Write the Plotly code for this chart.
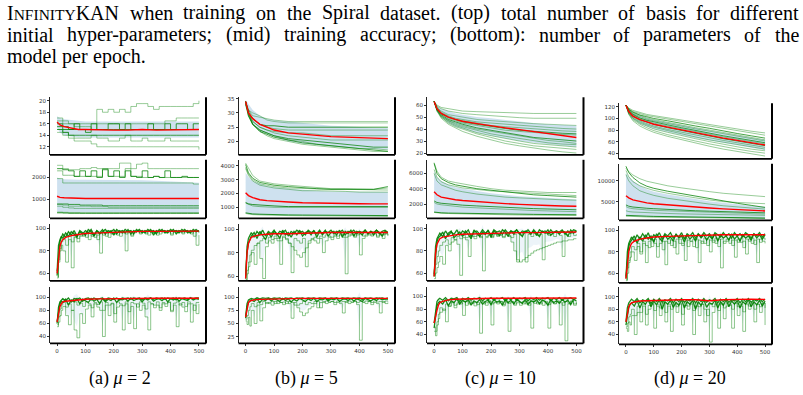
import numpy as np
import plotly.graph_objects as go

# ---------------- epoch grids ----------------
E_TOP = [0, 10, 25, 50, 75, 100, 150, 200, 250, 300, 350, 400, 450, 500]
E_STEP = list(range(0, 501, 20))
E_ACC = [0, 5, 10, 15] + list(range(20, 501, 10))
E_RED = [0, 5, 10, 15, 20, 30, 50, 75, 100, 150, 200, 250, 300, 350, 400, 450, 500]
X_TICKS = [0, 100, 200, 300, 400, 500]

# ---------------- (a) mu = 2 ----------------
BASIS_MU2_LINES = [
    [17, 16.5, 16, 15.5, 15.5, 15.5, 15, 18.5, 18, 18.5, 18, 18.5, 18, 19, 19.5, 19.5, 19, 18.5, 19, 19, 19, 19, 19, 19, 19.5, 20],
    [16.5, 16, 16, 16, 16, 16, 16, 16, 16, 16, 16, 16, 16, 16, 16, 16, 16, 16, 16, 16.5, 16.5, 17, 17, 17, 17, 17],
    [16, 15.5, 15, 16, 15, 15, 16, 15, 15, 16, 16, 15, 16, 15, 15, 15, 16, 15, 15, 16, 15, 16, 16, 15, 16, 16],
    [15.5, 15, 15, 15, 15, 14.5, 15, 15, 15, 15, 15, 15, 15, 15, 15, 15, 15, 15, 15, 15, 15, 15, 15, 15, 15, 15],
    [15, 14.5, 14, 14, 14, 14, 14, 14, 14, 14, 14, 14, 14, 14, 14, 14, 14, 14, 14, 14, 14, 14, 14, 14, 14, 14],
    [15, 14.5, 14, 13.5, 13.5, 13.5, 14, 13.5, 13.5, 13, 13, 13.5, 14, 13, 13, 13.5, 13, 13, 13, 13.5, 13, 13, 13, 13, 13, 13],
    [14.5, 14, 13.5, 13, 13, 13, 12.5, 12, 12, 12, 12, 12, 12, 12, 12, 12, 12, 12, 12, 12, 12, 12, 12, 12, 12, 11.5],
]
BASIS_MU2_MEAN = [16.3, 15.8, 15.5, 15.2, 15.0, 15.0, 14.9, 14.9, 14.9, 15.0, 14.9, 14.9, 15.0, 15.0]
BASIS_MU2_LO = [15.3, 14.5, 14.0, 13.8, 13.6, 13.5, 13.5, 13.5, 13.5, 13.5, 13.5, 13.5, 13.6, 13.6]
BASIS_MU2_HI = [17.3, 17.0, 16.8, 16.6, 16.5, 16.4, 16.4, 16.3, 16.3, 16.4, 16.3, 16.3, 16.4, 16.4]

PARAMS_MU2_LINES = [
    [2400, 2350, 2300, 2050, 2300, 2050, 2300, 2000, 2350, 2050, 2300, 2000, 2300, 2050, 2000, 2300, 2000, 2050, 2000, 2300, 2000, 2000, 2050, 2000, 2000, 2000],
    [2550, 2400, 2350, 2350, 2400, 2400, 2450, 2400, 2400, 2400, 2400, 2650, 2650, 2400, 2600, 2650, 2400, 2400, 2400, 2400, 2400, 2400, 2400, 2400, 2400, 2400],
    [2300, 2100, 2100, 2050, 2050, 2050, 2050, 2050, 2400, 2050, 2050, 2050, 2400, 2050, 2050, 2000, 2000, 2050, 2000, 2000, 2000, 2000, 2000, 2000, 2000, 2000],
    [1950, 1750, 1750, 1750, 1750, 1750, 1750, 1750, 1750, 1750, 1750, 1750, 1750, 1750, 1750, 1750, 1750, 1750, 1750, 1750, 1750, 1750, 1750, 1750, 1700, 1700],
    [800, 800, 780, 780, 750, 750, 750, 750, 720, 720, 720, 720, 720, 720, 720, 720, 720, 720, 720, 720, 720, 720, 720, 720, 720, 720],
    [780, 750, 700, 700, 700, 700, 680, 680, 680, 650, 650, 650, 650, 650, 650, 650, 650, 650, 650, 650, 650, 650, 650, 650, 650, 650],
    [700, 650, 620, 600, 600, 600, 600, 600, 600, 600, 600, 600, 600, 600, 600, 600, 600, 600, 600, 600, 600, 600, 600, 600, 600, 600],
    [400, 390, 380, 380, 380, 380, 380, 380, 380, 380, 380, 380, 380, 380, 380, 380, 380, 380, 380, 380, 380, 380, 380, 380, 380, 380],
    [430, 420, 410, 410, 400, 400, 400, 400, 400, 400, 400, 400, 400, 400, 400, 400, 400, 400, 400, 400, 400, 400, 400, 400, 400, 400],
]
PARAMS_MU2_MEAN = [1150, 1100, 1080, 1060, 1060, 1050, 1050, 1050, 1050, 1060, 1050, 1050, 1050, 1050]
PARAMS_MU2_LO = [450, 430, 420, 410, 400, 400, 400, 400, 400, 400, 400, 400, 400, 400]
PARAMS_MU2_HI = [2000, 1950, 1920, 1900, 1900, 1900, 1900, 1900, 1880, 1870, 1850, 1830, 1800, 1760]

TRAIN_MU2_LINES = [
    [58, 78, 88, 92,
     95, 92, 97, 94, 98, 93, 97, 95, 98, 96, 99, 94, 98, 96, 99, 95, 98, 97, 99, 95, 98,
     96, 99, 97, 98, 95, 99, 97, 98, 96, 99, 97, 98, 95, 99, 97, 98, 96, 99, 97, 98, 96,
     99, 97, 98, 96, 99, 97, 98],
    [62, 85, 90, 93,
     91, 96, 93, 97, 95, 92, 98, 96, 94, 99, 97, 93, 98, 95, 97, 99, 96, 98, 94, 99, 97,
     98, 96, 99, 95, 98, 97, 99, 96, 98, 97, 99, 94, 98, 97, 99, 96, 98, 97, 99, 95, 98,
     97, 99, 96, 98, 97, 99, 97],
    [56, 70, 80, 85,
     80, 70, 90, 65, 92, 88, 94, 93, 96, 90, 95, 92, 94, 78, 96, 93, 97, 95, 98, 94, 96,
     97, 80, 98, 93, 97, 98, 96, 97, 95, 98, 96, 97, 94, 98, 97, 96, 98, 95, 97, 98, 97,
     96, 98, 97, 95, 98, 85, 94],
    [57, 72, 82, 88,
     90, 85, 93, 88, 95, 91, 93, 94, 92, 96, 93, 95, 90, 96, 94, 97, 92, 96, 95, 97, 93,
     96, 95, 97, 94, 96, 98, 95, 97, 96, 94, 98, 96, 97, 95, 98, 96, 97, 94, 98, 96, 97,
     95, 98, 96, 97, 93, 98, 96],
]
TRAIN_MU2_MEAN = [60, 75, 84, 88, 90, 92, 93.5, 94.5, 95.5, 96, 96.5, 97, 97.3, 97.3, 97.5, 97.5, 97.5]

TEST_MU2_LINES = [
    [60, 85, 93, 96,
     98, 95, 99, 93, 98, 97, 99, 94, 98, 99, 96, 99, 97, 98, 99, 95, 99, 98, 97, 99, 96,
     99, 98, 99, 97, 99, 98, 99, 96, 99, 98, 99, 97, 99, 98, 99, 97, 99, 98, 99, 96, 99,
     98, 99, 97, 99, 98, 99, 99],
    [63, 80, 90, 94,
     92, 97, 88, 96, 93, 98, 90, 97, 95, 92, 98, 94, 97, 90, 98, 93, 97, 95, 99, 92, 97,
     96, 98, 94, 99, 95, 97, 98, 93, 98, 96, 99, 94, 97, 98, 95, 99, 93, 98, 96, 99, 94,
     98, 97, 95, 99, 96, 98, 97],
    [55, 62, 72, 80,
     86, 72, 58, 80, 50, 38, 75, 60, 82, 88, 70, 90, 85, 80, 40, 88, 72, 90, 62, 85, 88,
     50, 90, 60, 86, 52, 90, 80, 88, 70, 50, 90, 84, 88, 80, 90, 86, 92, 80, 88, 55, 90,
     85, 78, 90, 62, 88, 75, 90],
    [58, 70, 82, 88,
     92, 85, 90, 80, 93, 88, 91, 86, 93, 90, 84, 92, 89, 93, 80, 92, 88, 91, 75, 93, 90,
     87, 93, 78, 92, 90, 85, 93, 91, 82, 93, 90, 88, 93, 84, 92, 90, 93, 78, 91, 93, 88,
     92, 86, 93, 90, 80, 92, 93],
]
TEST_MU2_MEAN = [62, 78, 86, 90, 93, 94, 95, 96, 97, 97.5, 98, 98, 98.5, 98.5, 98.5, 98.5, 98.5]

# ---------------- (b) mu = 5 ----------------
BASIS_MU5_LINES = [
    [34, 31, 29, 28.5, 28, 27.5, 27, 27, 27, 27, 27, 27, 27, 27],
    [33, 31, 30, 29, 27.5, 27, 26.5, 26.5, 26.5, 26.5, 26.5, 26.5, 26.5, 26.5],
    [34, 30, 28, 26, 25.5, 25.5, 25, 25, 25, 25, 25, 25, 25, 25],
    [34, 31, 28, 26, 25, 24.5, 24, 24, 24, 24, 24, 24, 24, 24],
    [33, 30, 27, 25, 24, 23.5, 23, 23, 22.5, 22, 22, 22, 22, 22],
    [34, 30, 27, 25, 24, 23, 22, 21.5, 21, 20.5, 20.5, 20.5, 20.5, 20.5],
    [34, 29, 26, 24, 23, 22, 21, 20.5, 20, 19.5, 19, 18.5, 18, 18],
    [33, 29, 26, 24, 23, 22, 20.5, 20, 19, 18.5, 18, 17.5, 17.5, 17],
    [34, 30, 26, 23.5, 22.5, 21.5, 20.5, 19.5, 19, 18.5, 18, 17.5, 17, 16.5],
    [33, 29, 26, 23.5, 22, 21, 20, 19, 18.5, 18, 17.5, 17, 16.5, 16.5],
]
BASIS_MU5_MEAN = [34, 30, 28, 26, 25, 24, 23, 22.5, 22, 21.7, 21.5, 21.3, 21.1, 21]
BASIS_MU5_LO = [33, 29, 26, 23.5, 22.5, 21.5, 20, 19.3, 18.7, 18.2, 17.8, 17.5, 17.3, 17.1]
BASIS_MU5_HI = [34.5, 33, 31, 29, 28, 27.5, 27, 26.5, 26, 25.5, 25.3, 25, 24.8, 24.7]

PARAMS_MU5_LINES = [
    [4200, 3800, 3300, 2900, 2800, 2700, 2600, 2500, 2400, 2350, 2350, 2350, 2300, 2400],
    [4100, 3500, 3100, 2800, 2700, 2600, 2500, 2400, 2350, 2300, 2300, 2300, 2300, 2500],
    [3900, 3400, 3000, 2700, 2600, 2500, 2400, 2350, 2300, 2300, 2300, 2300, 2250, 2250],
    [3800, 3300, 2900, 2600, 2500, 2400, 2300, 2200, 2200, 2200, 2150, 2100, 2100, 2100],
    [1350, 1250, 1200, 1150, 1100, 1100, 1050, 1050, 1050, 1050, 1050, 1050, 1050, 1050],
    [1300, 1200, 1100, 1050, 1000, 1000, 1000, 1000, 1000, 1000, 1000, 1000, 1000, 1000],
    [600, 550, 520, 500, 480, 470, 450, 440, 430, 420, 420, 410, 410, 400],
    [550, 500, 470, 450, 430, 420, 400, 390, 380, 370, 360, 360, 350, 350],
]
PARAMS_MU5_MEAN = [2050, 1850, 1700, 1550, 1480, 1430, 1380, 1330, 1300, 1280, 1270, 1260, 1250, 1250]
PARAMS_MU5_LO = [600, 500, 480, 450, 420, 400, 380, 370, 360, 350, 350, 340, 340, 330]
PARAMS_MU5_HI = [3500, 3200, 2900, 2700, 2550, 2450, 2350, 2250, 2200, 2150, 2150, 2100, 2100, 2100]

TRAIN_MU5_LINES = [
    [58, 85, 92, 95,
     97, 93, 98, 95, 99, 94, 98, 96, 99, 95, 98, 97, 99, 94, 98, 96, 99, 97, 98, 95, 99,
     97, 98, 96, 99, 95, 98, 97, 99, 96, 98, 97, 99, 95, 98, 97, 99, 96, 98, 97, 99, 96,
     98, 97, 99, 96, 98, 99, 97],
    [60, 80, 88, 92,
     94, 97, 92, 98, 95, 91, 97, 93, 98, 96, 92, 99, 95, 97, 93, 98, 95, 99, 94, 97, 98,
     95, 99, 93, 98, 96, 99, 94, 97, 98, 95, 99, 93, 98, 96, 99, 94, 98, 97, 95, 99, 96,
     98, 95, 99, 97, 94, 98, 97],
    [56, 62, 68, 72,
     80, 70, 88, 75, 58, 85, 90, 88, 92, 90, 70, 93, 91, 88, 63, 92, 90, 88, 92, 68, 90,
     92, 90, 88, 92, 80, 90, 93, 91, 94, 92, 95, 93, 62, 94, 95, 93, 96, 78, 92, 94, 95,
     94, 96, 93, 95, 92, 96, 94],
    [57, 65, 72, 78,
     82, 86, 88, 90, 92, 88, 93, 91, 94, 92, 90, 94, 92, 88, 85, 82, 78, 76, 80, 84, 88,
     91, 93, 92, 94, 93, 95, 94, 93, 95, 94, 96, 95, 93, 95, 96, 94, 95, 96, 94, 95, 96,
     95, 96, 94, 96, 95, 96, 95],
]
TRAIN_MU5_MEAN = [58, 80, 88, 91, 93, 94, 95, 95.5, 96, 96, 96.5, 96.5, 97, 97, 97, 97, 97]

TEST_MU5_LINES = [
    [62, 88, 95, 97,
     98, 96, 99, 97, 99, 98, 99, 97, 99, 98, 99, 96, 99, 98, 99, 97, 99, 98, 99, 97, 99,
     98, 99, 97, 99, 98, 99, 96, 99, 98, 99, 97, 99, 98, 99, 97, 99, 98, 99, 96, 99, 98,
     99, 97, 99, 98, 99, 97, 99],
    [60, 82, 90, 93,
     95, 92, 97, 90, 96, 94, 98, 93, 97, 95, 92, 98, 94, 97, 91, 96, 93, 98, 95, 92, 97,
     94, 98, 92, 96, 95, 98, 93, 97, 95, 98, 92, 96, 97, 94, 98, 93, 97, 95, 92, 98, 96,
     93, 97, 94, 98, 95, 97, 96],
    [55, 48, 62, 45,
     75, 50, 85, 55, 80, 90, 88, 85, 92, 88, 90, 86, 92, 88, 60, 90, 85, 88, 92, 86, 90,
     88, 92, 80, 90, 92, 88, 90, 92, 86, 90, 88, 70, 92, 88, 90, 92, 86, 18, 90, 88, 92,
     86, 90, 88, 70, 92, 88, 90],
    [58, 65, 75, 82,
     88, 82, 90, 86, 92, 88, 90, 92, 88, 93, 90, 91, 88, 92, 90, 85, 80, 72, 65, 70, 78,
     82, 88, 92, 80, 90, 93, 91, 92, 90, 93, 91, 92, 90, 93, 91, 93, 90, 92, 91, 93, 92,
     90, 93, 91, 92, 90, 93, 92],
]
TEST_MU5_MEAN = [62, 80, 90, 93, 94, 95, 96, 96.5, 97, 97.5, 98, 98, 98, 98, 97.5, 98, 98]

# ---------------- (c) mu = 10 ----------------
BASIS_MU10_LINES = [
    [63, 60, 58, 57, 56, 55, 54.5, 54, 53.5, 53, 53, 53, 53, 53],
    [63, 59, 57, 55, 54, 53, 52, 51, 50, 49.5, 49, 49, 49, 49],
    [63, 58, 55, 52, 51, 50, 48, 47, 46, 45, 44.5, 44, 43.5, 43],
    [63, 58, 54, 51, 49, 48, 46, 45, 44, 43, 42, 41, 40.5, 40],
    [63, 57, 53, 50, 48, 47, 45, 43, 42, 41, 40, 39, 38.5, 38],
    [63, 57, 53, 50, 48, 46, 44, 42, 40.5, 39, 38, 37, 36.5, 36],
    [63, 57, 53, 49, 47, 45, 43, 41, 39, 38, 37, 36, 35.5, 35],
    [63, 56, 52, 48, 46, 44, 41, 39, 37, 35, 33, 32, 31, 30],
    [63, 56, 51, 47, 45, 43, 40, 38, 36, 34, 32, 30.5, 29.5, 28],
    [63, 56, 51, 47, 44, 42, 39, 36, 34, 32, 30, 28.5, 27.5, 27],
    [63, 56, 50, 46, 43, 41, 37, 34.5, 32, 30, 28, 27, 26, 25],
    [63, 55, 50, 45, 42, 40, 36, 33, 30, 28, 26, 25, 24, 23],
    [63, 55, 49, 44, 41, 38, 34, 31, 28, 26, 24, 22.5, 21, 20],
]
BASIS_MU10_MEAN = [63, 57, 53, 50, 48, 46.5, 44.5, 42.5, 41, 39.5, 38, 36.5, 35, 33]
BASIS_MU10_LO = [63, 55, 50, 45, 42, 40, 37, 34.5, 32, 30, 28.5, 27, 26, 25]
BASIS_MU10_HI = [63, 59, 57, 55, 53, 52, 50, 49, 47.5, 46, 45, 44, 43.5, 43]

PARAMS_MU10_LINES = [
    [7400, 6300, 5500, 5000, 4800, 4600, 4300, 4000, 3800, 3700, 3600, 3500, 3500, 3500],
    [7300, 6000, 5300, 4800, 4500, 4300, 4000, 3800, 3600, 3400, 3200, 3100, 3000, 2900],
    [6500, 5500, 4900, 4500, 4300, 4100, 3900, 3700, 3600, 3500, 3400, 3300, 3200, 3100],
    [6000, 5000, 4500, 4100, 3800, 3600, 3300, 3100, 2900, 2800, 2700, 2600, 2550, 2500],
    [2400, 2200, 2100, 2000, 1900, 1850, 1750, 1650, 1550, 1450, 1400, 1350, 1300, 1250],
    [2200, 2000, 1900, 1800, 1700, 1600, 1500, 1400, 1300, 1200, 1150, 1100, 1050, 1000],
    [950, 900, 850, 820, 800, 780, 750, 720, 700, 680, 650, 630, 620, 600],
    [900, 850, 800, 760, 730, 700, 660, 630, 600, 570, 550, 530, 510, 500],
]
PARAMS_MU10_MEAN = [3600, 3200, 2900, 2700, 2550, 2450, 2300, 2150, 2050, 1950, 1850, 1800, 1750, 1700]
PARAMS_MU10_LO = [950, 900, 850, 820, 800, 780, 750, 720, 700, 680, 650, 630, 620, 600]
PARAMS_MU10_HI = [6300, 5500, 5000, 4500, 4200, 4000, 3700, 3400, 3200, 3000, 2900, 2800, 2700, 2600]

TRAIN_MU10_LINES = [
    [57, 84, 91, 94,
     96, 93, 98, 94, 97, 95, 99, 94, 98, 96, 99, 93, 97, 98, 95, 99, 96, 98, 94, 99, 97,
     98, 95, 99, 96, 98, 97, 99, 95, 98, 97, 99, 96, 98, 94, 99, 97, 98, 95, 99, 96, 98,
     97, 99, 95, 98, 96, 99, 98],
    [59, 78, 88, 92,
     93, 97, 91, 96, 98, 92, 95, 97, 93, 98, 95, 91, 99, 96, 93, 97, 95, 99, 92, 98, 96,
     94, 99, 97, 93, 98, 95, 99, 96, 93, 98, 97, 95, 99, 96, 93, 98, 96, 99, 94, 97, 98,
     95, 98, 97, 93, 99, 96, 98],
    [55, 60, 65, 70,
     75, 68, 85, 80, 88, 90, 86, 58, 92, 90, 75, 93, 91, 95, 93, 62, 92, 95, 93, 96, 94,
     95, 93, 96, 94, 92, 95, 70, 94, 96, 70, 95, 93, 96, 94, 95, 72, 96, 94, 95, 93, 96,
     94, 75, 95, 93, 96, 94, 95],
    [58, 68, 75, 80,
     85, 88, 90, 86, 92, 90, 93, 91, 94, 92, 93, 95, 93, 94, 92, 95, 93, 94, 92, 95, 93,
     94, 92, 95, 93, 88, 80, 72, 70, 72, 74, 76, 78, 80, 81, 82, 83, 84, 85, 86, 87, 88,
     88, 89, 89, 90, 90, 91, 91],
]
TRAIN_MU10_MEAN = [57, 78, 86, 89, 91, 92.5, 93.5, 94.5, 95, 95.5, 96, 96, 96.5, 96.5, 96.5, 97, 97]

TEST_MU10_LINES = [
    [58, 80, 92, 95,
     97, 94, 98, 93, 97, 96, 98, 92, 97, 95, 98, 94, 97, 96, 98, 93, 97, 95, 98, 94, 97,
     96, 98, 93, 97, 95, 98, 94, 97, 96, 98, 93, 97, 95, 98, 94, 97, 96, 98, 93, 97, 95,
     98, 94, 97, 96, 98, 95, 97],
    [50, 70, 85, 90,
     92, 88, 95, 85, 93, 90, 96, 88, 94, 91, 95, 86, 93, 90, 95, 88, 92, 94, 87, 95, 91,
     93, 86, 95, 90, 94, 88, 95, 92, 89, 95, 87, 93, 91, 95, 88, 94, 92, 86, 95, 90, 93,
     89, 95, 91, 94, 87, 95, 93],
    [45, 38, 55, 65,
     75, 80, 60, 85, 90, 82, 88, 90, 70, 92, 88, 91, 85, 90, 42, 88, 90, 92, 55, 90, 88,
     92, 85, 90, 45, 92, 88, 90, 86, 92, 88, 90, 50, 92, 88, 90, 86, 92, 50, 90, 88, 92,
     55, 90, 30, 88, 92, 86, 90],
    [52, 45, 60, 72,
     82, 78, 88, 84, 91, 86, 90, 88, 92, 86, 93, 89, 91, 87, 90, 92, 86, 93, 88, 91, 90,
     92, 87, 93, 89, 91, 86, 93, 90, 88, 92, 86, 93, 89, 91, 88, 93, 90, 87, 92, 89, 93,
     90, 86, 92, 89, 93, 88, 92],
]
TEST_MU10_MEAN = [58, 70, 78, 86, 90, 92, 94.5, 95.5, 96, 96.5, 97, 97, 97, 97, 97, 97, 97.5]

# ---------------- (d) mu = 20 ----------------
BASIS_MU20_LINES = [
    [123, 118, 114, 110, 107, 105, 101, 97, 93, 89, 85, 82, 78, 75],
    [123, 117, 112, 108, 105, 103, 99, 95, 91, 87, 83, 79, 75, 71],
    [123, 116, 111, 106, 103, 100, 96, 91, 87, 83, 78, 74, 70, 66],
    [123, 115, 110, 105, 101, 98, 93, 89, 84, 80, 76, 72, 68, 63],
    [123, 114, 108, 103, 99, 96, 91, 87, 82, 78, 74, 70, 65, 61],
    [123, 114, 107, 101, 97, 94, 89, 84, 79, 75, 70, 66, 62, 58],
    [123, 113, 106, 100, 96, 92, 87, 82, 77, 72, 68, 64, 60, 56],
    [123, 112, 104, 98, 94, 90, 84, 79, 74, 70, 65, 61, 57, 53],
    [123, 111, 103, 96, 91, 87, 81, 76, 71, 66, 62, 58, 54, 50],
    [123, 110, 101, 94, 89, 85, 79, 73, 68, 63, 59, 55, 51, 47],
    [123, 109, 100, 92, 87, 82, 76, 70, 65, 60, 55, 51, 47, 44],
    [123, 108, 98, 90, 84, 79, 72, 66, 61, 56, 51, 47, 43, 40],
    [123, 107, 96, 87, 81, 76, 69, 63, 57, 52, 47, 43, 39, 35],
]
BASIS_MU20_MEAN = [123, 112, 104, 98, 94, 90, 85, 80, 75, 71, 66, 62, 58, 54]
BASIS_MU20_LO = [123, 108, 99, 91, 86, 82, 76, 71, 66, 62, 57, 53, 49, 45]
BASIS_MU20_HI = [123, 116, 110, 105, 101, 98, 93, 88, 84, 79, 75, 71, 67, 63]

PARAMS_MU20_LINES = [
    [13000, 12200, 11400, 10500, 9900, 9500, 8800, 8300, 7800, 7400, 7000, 6700, 6400, 6200],
    [13500, 12000, 10800, 9500, 8700, 8200, 7500, 6900, 6300, 5700, 5100, 4600, 4100, 3600],
    [12500, 11000, 9800, 8800, 8200, 7700, 7000, 6400, 5900, 5400, 5000, 4800, 4600, 4500],
    [11500, 10000, 8800, 7600, 7000, 6500, 5800, 5300, 4800, 4400, 4000, 3700, 3400, 3200],
    [4200, 3900, 3700, 3500, 3400, 3300, 3100, 2900, 2800, 2700, 2600, 2500, 2400, 2300],
    [3800, 3500, 3300, 3100, 3000, 2900, 2800, 2650, 2500, 2400, 2300, 2200, 2100, 2000],
    [2800, 2600, 2500, 2400, 2300, 2250, 2150, 2050, 2000, 1900, 1850, 1800, 1750, 1700],
    [1700, 1650, 1600, 1550, 1500, 1450, 1400, 1350, 1300, 1250, 1200, 1150, 1100, 1050],
    [1500, 1450, 1400, 1350, 1300, 1250, 1200, 1150, 1100, 1050, 1000, 1000, 950, 950],
]
PARAMS_MU20_MEAN = [6400, 5900, 5400, 5000, 4700, 4500, 4200, 3900, 3700, 3450, 3250, 3050, 2900, 2750]
PARAMS_MU20_LO = [1500, 1450, 1400, 1350, 1300, 1250, 1200, 1150, 1100, 1050, 1000, 1000, 950, 950]
PARAMS_MU20_HI = [12000, 11000, 10000, 8800, 8000, 7400, 6700, 6100, 5600, 5100, 4700, 4300, 4000, 3800]

TRAIN_MU20_LINES = [
    [55, 80, 88, 92,
     94, 90, 96, 92, 97, 93, 98, 91, 96, 94, 98, 92, 97, 95, 98, 93, 96, 94, 98, 92, 97,
     95, 98, 93, 97, 94, 98, 95, 97, 93, 98, 96, 94, 98, 95, 97, 93, 98, 95, 97, 94, 98,
     96, 93, 97, 95, 98, 94, 97],
    [57, 75, 85, 89,
     91, 95, 88, 94, 90, 96, 92, 95, 89, 97, 93, 90, 96, 92, 94, 90, 97, 93, 95, 89, 96,
     92, 95, 90, 97, 93, 96, 91, 95, 92, 97, 90, 96, 93, 95, 91, 97, 92, 95, 90, 96, 93,
     95, 91, 97, 93, 96, 92, 96],
    [53, 60, 70, 75,
     80, 72, 85, 78, 88, 70, 90, 85, 92, 75, 88, 90, 68, 92, 86, 90, 78, 92, 88, 72, 91,
     90, 85, 92, 70, 90, 88, 92, 80, 91, 88, 92, 65, 90, 92, 88, 91, 75, 92, 89, 90, 78,
     92, 88, 91, 70, 92, 90, 88],
    [54, 65, 72, 80,
     85, 82, 88, 80, 90, 86, 84, 91, 88, 85, 92, 82, 90, 88, 91, 84, 92, 88, 86, 93, 85,
     90, 92, 84, 91, 88, 93, 86, 91, 89, 93, 85, 92, 88, 90, 93, 86, 91, 89, 93, 84, 92,
     90, 93, 87, 92, 89, 93, 91],
]
TRAIN_MU20_MEAN = [55, 72, 80, 85, 88, 90, 92, 93, 94, 94.5, 95, 95.5, 95.5, 96, 96, 96, 96]

TEST_MU20_LINES = [
    [60, 82, 90, 94,
     96, 92, 97, 90, 95, 93, 97, 89, 96, 92, 97, 91, 95, 93, 97, 90, 96, 92, 97, 91, 95,
     93, 97, 90, 96, 92, 97, 91, 95, 93, 97, 90, 96, 92, 97, 91, 95, 93, 97, 90, 96, 92,
     97, 91, 95, 93, 97, 92, 96],
    [55, 70, 82, 88,
     90, 85, 94, 82, 92, 88, 95, 84, 93, 87, 95, 80, 92, 88, 94, 83, 91, 86, 95, 82, 92,
     88, 94, 80, 92, 86, 95, 83, 90, 88, 94, 82, 92, 86, 95, 84, 93, 88, 94, 82, 92, 88,
     95, 84, 92, 87, 94, 85, 93],
    [50, 45, 60, 55,
     70, 40, 75, 60, 85, 55, 80, 88, 50, 85, 70, 90, 60, 85, 45, 88, 75, 90, 55, 86, 80,
     90, 40, 85, 70, 88, 60, 80, 28, 75, 88, 50, 90, 65, 85, 88, 50, 90, 70, 85, 45, 88,
     80, 90, 60, 88, 75, 90, 55],
    [52, 58, 68, 72,
     80, 70, 85, 75, 88, 72, 86, 90, 78, 88, 82, 90, 75, 88, 80, 90, 84, 88, 72, 90, 85,
     88, 78, 90, 84, 88, 80, 70, 88, 84, 90, 78, 88, 82, 90, 86, 80, 90, 84, 88, 76, 90,
     85, 90, 80, 88, 84, 90, 82],
]
TEST_MU20_MEAN = [60, 75, 84, 88, 90, 91.5, 93, 93.5, 94, 94.5, 95, 95, 93.5, 95, 96, 96, 95.5]

# ---------------- text ----------------
CAPTION_LINES = [
    "InfinityKAN when training on the Spiral dataset. (top) total number of basis for different",
    "initial hyper-parameters; (mid) training accuracy; (bottom): number of parameters of the",
    "model per epoch.",
]
SUB_CAPTIONS = ["(a) <i>μ</i> = 2", "(b) <i>μ</i> = 5", "(c) <i>μ</i> = 10", "(d) <i>μ</i> = 20"]

# ---------------- panel table (row, col) ----------------
PANELS = [
    [dict(x=E_STEP, lines=BASIS_MU2_LINES, mx=E_TOP, mean=BASIS_MU2_MEAN, lo=BASIS_MU2_LO, hi=BASIS_MU2_HI),
     dict(x=E_TOP, lines=BASIS_MU5_LINES, mx=E_TOP, mean=BASIS_MU5_MEAN, lo=BASIS_MU5_LO, hi=BASIS_MU5_HI),
     dict(x=E_TOP, lines=BASIS_MU10_LINES, mx=E_TOP, mean=BASIS_MU10_MEAN, lo=BASIS_MU10_LO, hi=BASIS_MU10_HI),
     dict(x=E_TOP, lines=BASIS_MU20_LINES, mx=E_TOP, mean=BASIS_MU20_MEAN, lo=BASIS_MU20_LO, hi=BASIS_MU20_HI)],
    [dict(x=E_STEP, lines=PARAMS_MU2_LINES, mx=E_TOP, mean=PARAMS_MU2_MEAN, lo=PARAMS_MU2_LO, hi=PARAMS_MU2_HI),
     dict(x=E_TOP, lines=PARAMS_MU5_LINES, mx=E_TOP, mean=PARAMS_MU5_MEAN, lo=PARAMS_MU5_LO, hi=PARAMS_MU5_HI),
     dict(x=E_TOP, lines=PARAMS_MU10_LINES, mx=E_TOP, mean=PARAMS_MU10_MEAN, lo=PARAMS_MU10_LO, hi=PARAMS_MU10_HI),
     dict(x=E_TOP, lines=PARAMS_MU20_LINES, mx=E_TOP, mean=PARAMS_MU20_MEAN, lo=PARAMS_MU20_LO, hi=PARAMS_MU20_HI)],
    [dict(x=E_ACC, lines=TRAIN_MU2_LINES, mx=E_RED, mean=TRAIN_MU2_MEAN),
     dict(x=E_ACC, lines=TRAIN_MU5_LINES, mx=E_RED, mean=TRAIN_MU5_MEAN),
     dict(x=E_ACC, lines=TRAIN_MU10_LINES, mx=E_RED, mean=TRAIN_MU10_MEAN),
     dict(x=E_ACC, lines=TRAIN_MU20_LINES, mx=E_RED, mean=TRAIN_MU20_MEAN)],
    [dict(x=E_ACC, lines=TEST_MU2_LINES, mx=E_RED, mean=TEST_MU2_MEAN),
     dict(x=E_ACC, lines=TEST_MU5_LINES, mx=E_RED, mean=TEST_MU5_MEAN),
     dict(x=E_ACC, lines=TEST_MU10_LINES, mx=E_RED, mean=TEST_MU10_MEAN),
     dict(x=E_ACC, lines=TEST_MU20_LINES, mx=E_RED, mean=TEST_MU20_MEAN)],
]

# ---------------- styling / layout ----------------
W, H = 803, 395
COL_X = [(50, 206), (238.5, 395), (427, 583.5), (619, 772)]
ROWS_STD = [(96, 154), (159, 218), (224, 281), (287, 344)]
ROWS_D = [(102, 158), (163, 220), (226, 283), (287.5, 345)]
ROW_Y = [ROWS_STD, ROWS_STD, ROWS_STD, ROWS_D]

Y_RANGES = [
    [[10.6, 20.6], [15.3, 35.5], [18.5, 66.5], [30.2, 126.4]],
    [[150, 2800], [200, 4440], [130, 7770], [500, 14100]],
    [[53.4, 103.6], [56, 104], [53, 104], [51, 104]],
    [[29.5, 116], [12, 120], [26, 115], [24.4, 114.7]],
]
Y_TICKS = [
    [[12, 14, 16, 18, 20], [20, 25, 30, 35], [20, 30, 40, 50, 60], [40, 60, 80, 100, 120]],
    [[1000, 2000], [1000, 2000, 3000, 4000], [2000, 4000, 6000], [5000, 10000]],
    [[60, 80, 100]] * 4,
    [[40, 60, 80, 100], [25, 50, 75, 100], [40, 60, 80, 100], [40, 60, 80, 100]],
]
ALPHAS = [
    [[.45, .45, .85, .85, .8, .45, .45],
     [.4, .4, .85, .45, .45, .45, .8, .45, .8, .45],
     [.45, .45, .4, .45, .45, .8, .45, .8, .45, .45, .45, .45, .45],
     [.45, .45, .8, .45, .45, .8, .45, .8, .45, .45, .45, .45, .45]],
    [[.85, .45, .5, .45, .8, .45, .45, .9, .5],
     [.45, .8, .45, .45, .9, .5, .9, .45],
     [.45, .85, .45, .45, .85, .45, .9, .45],
     [.45, .85, .45, .45, .85, .45, .45, .9, .45]],
]
ACC_ALPHAS = [0.9, 0.9, 0.5, 0.5]
ACC_WIDTHS = [1.3, 1.3, 0.9, 0.9]
ACC_SHAPES = ["linear", "linear", "hv", "hv"]
STEP_PANELS = {(0, 0), (1, 0)}

TICK_FONT = dict(family="DejaVu Sans", size=5.5, color="#333333")

fig = go.Figure()
shapes = []

for r in range(4):
    for c in range(4):
        k = r * 4 + c + 1
        xn = "x" if k == 1 else f"x{k}"
        yn = "y" if k == 1 else f"y{k}"
        p = PANELS[r][c]
        # band
        if "lo" in p:
            bx = list(p["mx"]) + list(p["mx"])[::-1]
            by = list(p["hi"]) + list(p["lo"])[::-1]
            op = 0.22
        else:
            arr = np.array(p["lines"], dtype=float)
            m = arr.mean(axis=0)
            s = arr.std(axis=0)
            bx = list(p["x"]) + list(p["x"])[::-1]
            by = list(m + s) + list(m - s)[::-1]
            op = 0.08
        fig.add_trace(go.Scatter(x=bx, y=by, fill="toself", mode="lines",
                                 line=dict(width=0), fillcolor=f"rgba(31,119,180,{op})",
                                 hoverinfo="skip", showlegend=False, xaxis=xn, yaxis=yn))
        # green runs
        n = len(p["lines"])
        if r < 2:
            alphas = ALPHAS[r][c]
            widths = [0.9] * n
            shp = ["hv" if (r, c) in STEP_PANELS else "linear"] * n
            order = list(range(n))
        else:
            alphas = ACC_ALPHAS
            widths = ACC_WIDTHS
            shp = ACC_SHAPES
            order = list(range(n))[::-1]  # light runs under dark runs
        for i in order:
            yv = p["lines"][i]
            fig.add_trace(go.Scatter(x=p["x"][:len(yv)], y=yv, mode="lines",
                                     line=dict(color=f"rgba(0,128,0,{alphas[i]})", width=widths[i], shape=shp[i]),
                                     hoverinfo="skip", showlegend=False, xaxis=xn, yaxis=yn))
        # mean
        fig.add_trace(go.Scatter(x=p["mx"], y=p["mean"], mode="lines",
                                 line=dict(color="#ff0000", width=1.4),
                                 hoverinfo="skip", showlegend=False, xaxis=xn, yaxis=yn))

        x0, x1 = COL_X[c]
        y0, y1 = ROW_Y[c][r]
        bottom = (r == 3)
        fig.layout[("xaxis" if k == 1 else f"xaxis{k}")] = dict(
            domain=[x0 / W, x1 / W], range=[-25, 525], anchor=yn,
            showgrid=False, zeroline=False, showline=False,
            tickmode="array", tickvals=X_TICKS if bottom else [],
            ticktext=[str(v) for v in X_TICKS] if bottom else [],
            ticks="outside" if bottom else "", ticklen=2, tickwidth=0.8, tickcolor="#333",
            showticklabels=bottom, tickfont=TICK_FONT,
        )
        fig.layout[("yaxis" if k == 1 else f"yaxis{k}")] = dict(
            domain=[1 - y1 / H, 1 - y0 / H], range=Y_RANGES[r][c], anchor=xn,
            showgrid=False, zeroline=False, showline=True, linecolor="#222", linewidth=1,
            tickmode="array", tickvals=Y_TICKS[r][c], ticktext=[str(v) for v in Y_TICKS[r][c]],
            ticks="outside", ticklen=2, tickwidth=0.8, tickcolor="#333",
            tickfont=TICK_FONT,
        )
        shapes.append(dict(type="line", xref=f"{xn} domain", yref=f"{yn} domain",
                           x0=1, x1=1, y0=0, y1=1, line=dict(color="black", width=2)))
        shapes.append(dict(type="line", xref=f"{xn} domain", yref=f"{yn} domain",
                           x0=0, x1=1, y0=0, y1=0, line=dict(color="black", width=1.8)))

# ---- caption: justified word placement (Times-like advance widths, per 1000 em) ----
CW = dict(a=444, b=500, c=444, d=500, e=444, f=333, g=500, h=500, i=278, j=278, k=500, l=278,
          m=778, n=500, o=500, p=500, q=500, r=333, s=389, t=278, u=500, v=500, w=722, x=500,
          y=500, z=444, A=722, F=556, I=333, K=722, N=722, S=556, T=611, Y=722)
CW.update({"(": 333, ")": 333, ";": 278, ":": 278, ".": 250, "-": 333, " ": 250})
CAP_SIZE = 20
SC_SIZE = 15.5
LEFT, RIGHT = 5, 797


def word_markup(w):
    if w == "InfinityKAN":
        return ("I<span style='font-size:%gpx'>NFINITY</span>KAN" % SC_SIZE,
                (CW["I"] + CW["K"] + CW["A"] + CW["N"]) / 1000 * CAP_SIZE
                + sum(CW[ch] for ch in "NFINITY") / 1000 * SC_SIZE)
    return (w, sum(CW.get(ch, 500) for ch in w) / 1000 * CAP_SIZE)


annotations = []
CAP_Y = [11, 33, 54.5]
for li, (txt, yy) in enumerate(zip(CAPTION_LINES, CAP_Y)):
    words = txt.split(" ")
    items = [word_markup(w) for w in words]
    natural = sum(wd for _, wd in items)
    if li < 2 and len(items) > 1:
        gap = (RIGHT - LEFT - natural) / (len(items) - 1)
    else:
        gap = CW[" "] / 1000 * CAP_SIZE
    xcur = LEFT
    for mk, wd in items:
        annotations.append(dict(text=mk, x=xcur / W, y=1 - yy / H, xref="paper", yref="paper",
                                xanchor="left", yanchor="middle", showarrow=False,
                                font=dict(family="Liberation Serif", size=CAP_SIZE, color="black")))
        xcur += wd + gap

SUB_X = [120, 306, 500, 690]
for txt, xx in zip(SUB_CAPTIONS, SUB_X):
    annotations.append(dict(text=txt, x=xx / W, y=1 - 379 / H, xref="paper", yref="paper",
                            xanchor="center", yanchor="middle", showarrow=False,
                            font=dict(family="Liberation Serif", size=18, color="black")))

fig.update_layout(width=W, height=H, margin=dict(l=0, r=0, t=0, b=0),
                  paper_bgcolor="white", plot_bgcolor="white",
                  showlegend=False, shapes=shapes, annotations=annotations)

fig.write_html("out.html")
